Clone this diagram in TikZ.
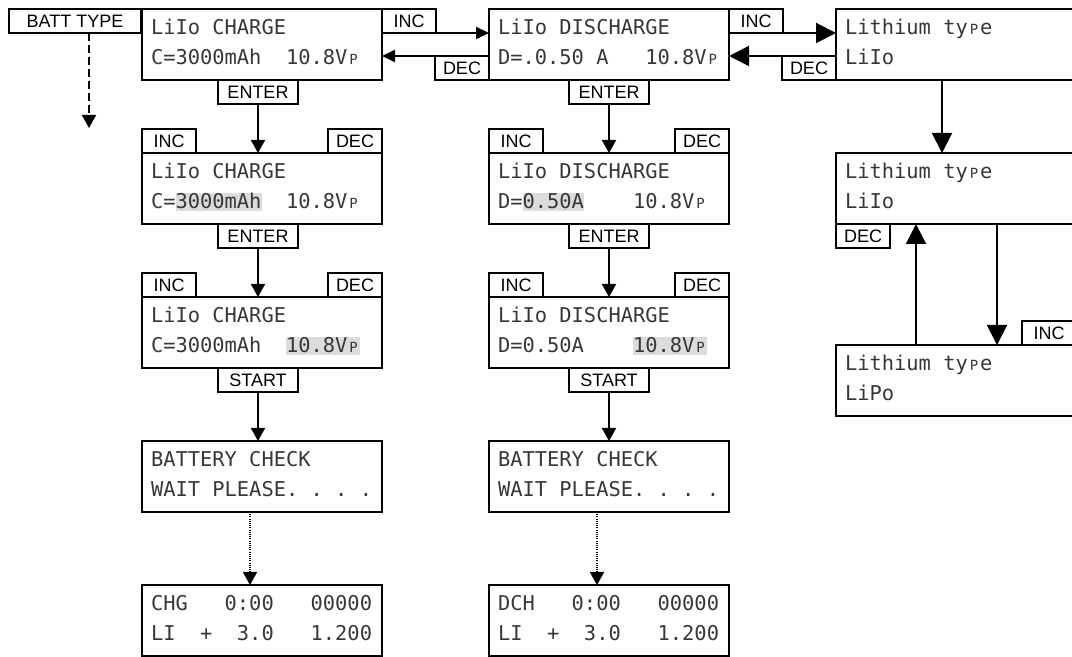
\documentclass[tikz,border=0pt]{standalone}
\usepackage{fontspec}
\setmainfont{Liberation Sans}
\newfontfamily\lcdfont{DejaVu Sans Mono}
\usetikzlibrary{arrows.meta,positioning}
\definecolor{lcdgray}{RGB}{220,220,220}
\definecolor{lcdink}{RGB}{55,55,55}
% small raised P of the display font
\newcommand\lcdp{\makebox[0.602em][c]{\fontsize{7}{7}\selectfont P}}
\newcommand\lcdhl[1]{{\setlength\fboxsep{0pt}\colorbox{lcdgray}{\rule[-1.5pt]{0pt}{9pt}#1}}}
\newcommand\lcdtwo[2]{\spaceskip=0pt\xspaceskip=0pt\rule{0pt}{8pt}#1\\#2\rule[-3pt]{0pt}{3pt}}
\tikzset{
  lcd/.style={draw, line width=1pt, outer sep=0pt, minimum width=120pt, minimum height=35.5pt,
    text width=111pt, inner xsep=4.5pt, inner ysep=0pt, align=left, text=lcdink,
    font=\lcdfont\frenchspacing\fontsize{10.2}{15}\selectfont, anchor=north west},
  btn/.style={draw, line width=1pt, outer sep=0pt, minimum width=27pt, minimum height=12pt,
    inner sep=0pt, font=\fontsize{9}{10}\selectfont},
  btnw/.style={btn, minimum width=40pt},
  arr/.style={-{Triangle[length=6.5pt,width=7pt]}, line width=1pt},
  arrS/.style={-{Triangle[length=6.5pt,width=6pt]}, line width=1pt},
  arrL/.style={-{Triangle[length=10pt,width=10pt]}, line width=1pt}
}
\begin{document}
\begin{tikzpicture}[x=0.5pt,y=0.5pt,yscale=-1,xscale=1]
\clip (0,0) rectangle (1072,657);

% axes of the connectors
\coordinate (axA) at (258,0);
\coordinate (axD) at (609,0);
\coordinate (dotA) at (250,0);
\coordinate (dotD) at (597,0);
\coordinate (axL) at (942,0);
\coordinate (upL) at (916,0);
\coordinate (dnL) at (997,0);

%Flowchart: Process -- battery type
\node[btn, minimum width=66pt, anchor=north west] (batt) at (9,9) {BATT TYPE};
\coordinate (battend) at (89,128);
\draw[arr, dash pattern=on 4pt off 2pt] (batt.south -| battend) -- (battend);

%Flowchart: Process -- top row
\node[lcd] (A1) at (142,9) {\lcdtwo{LiIo~CHARGE}{C=3000mAh~~10.8V\lcdp}};
\node[lcd] (D1) at (489,9) {\lcdtwo{LiIo~DISCHARGE}{D=.0.50~A~~~10.8V\lcdp}};
\node[lcd] (L1) at (836,9) {\lcdtwo{Lithium~ty\lcdp e}{LiIo}};

\node[btn, anchor=north west] (incA1) at (A1.north east) {INC};
\node[btn, anchor=south east] (decD1) at (D1.south west) {DEC};
\node[btn, anchor=north west] (incD1) at (D1.north east) {INC};
\node[btn, anchor=south east] (decL1) at (L1.south west) {DEC};

%Straight Lines
\draw[arrS] (incA1.south east) -- (incA1.south east -| D1.west);
\draw[arrS] (decD1.north west) -- (decD1.north west -| A1.east);
\draw[arrL] (incD1.south east) -- (incD1.south east -| L1.west);
\draw[arrL] (decL1.north west) -- (decL1.north west -| D1.east);

%Flowchart: Process -- charge column
\node[btnw, anchor=north] (entA1) at (A1.south -| axA) {ENTER};
\node[lcd] (A2) at (142,153) {\lcdtwo{LiIo~CHARGE}{C=\lcdhl{3000mAh}~~10.8V\lcdp}};
\node[btn, anchor=south west] (incA2) at (A2.north west) {INC};
\node[btn, anchor=south east] (decA2) at (A2.north east) {DEC};
\node[btnw, anchor=north] (entA2) at (A2.south -| axA) {ENTER};
\node[lcd] (A3) at (142,297) {\lcdtwo{LiIo~CHARGE}{C=3000mAh~~\lcdhl{10.8V\lcdp}}};
\node[btn, anchor=south west] (incA3) at (A3.north west) {INC};
\node[btn, anchor=south east] (decA3) at (A3.north east) {DEC};
\node[btnw, anchor=north] (stA) at (A3.south -| axA) {START};
\node[lcd] (A4) at (142,441) {\lcdtwo{BATTERY~CHECK}{WAIT~PLEASE.~.~.~.}};
\node[lcd] (A5) at (142,585) {\lcdtwo{CHG~~~0:00~~~00000}{LI~~+~~3.0~~~1.200}};

%Straight Lines
\draw[arr] (entA1) -- (entA1 |- A2.north);
\draw[arr] (entA2) -- (entA2 |- A3.north);
\draw[arr] (stA) -- (stA |- A4.north);
\draw[arr, line width=0.8pt, dash pattern=on 0.5pt off 0.6pt] (A4.south -| dotA) -- (dotA |- A5.north);

%Flowchart: Process -- discharge column
\node[btnw, anchor=north] (entD1) at (D1.south -| axD) {ENTER};
\node[lcd] (D2) at (489,153) {\lcdtwo{LiIo~DISCHARGE}{D=\lcdhl{0.50A}~~~~10.8V\lcdp}};
\node[btn, anchor=south west] (incD2) at (D2.north west) {INC};
\node[btn, anchor=south east] (decD2) at (D2.north east) {DEC};
\node[btnw, anchor=north] (entD2) at (D2.south -| axD) {ENTER};
\node[lcd] (D3) at (489,297) {\lcdtwo{LiIo~DISCHARGE}{D=0.50A~~~~\lcdhl{10.8V\lcdp}}};
\node[btn, anchor=south west] (incD3) at (D3.north west) {INC};
\node[btn, anchor=south east] (decD3) at (D3.north east) {DEC};
\node[btnw, anchor=north] (stD) at (D3.south -| axD) {START};
\node[lcd] (D4) at (489,441) {\lcdtwo{BATTERY~CHECK}{WAIT~PLEASE.~.~.~.}};
\node[lcd] (D5) at (489,585) {\lcdtwo{DCH~~~0:00~~~00000}{LI~~+~~3.0~~~1.200}};

%Straight Lines
\draw[arr] (entD1) -- (entD1 |- D2.north);
\draw[arr] (entD2) -- (entD2 |- D3.north);
\draw[arr] (stD) -- (stD |- D4.north);
\draw[arr, line width=0.8pt, dash pattern=on 0.5pt off 0.6pt] (D4.south -| dotD) -- (dotD |- D5.north);

%Flowchart: Process -- lithium type column
\node[lcd] (L2) at (836,153) {\lcdtwo{Lithium~ty\lcdp e}{LiIo}};
\node[btn, anchor=north west] (decL2) at (L2.south west) {DEC};
\node[lcd] (L3) at (836,345) {\lcdtwo{Lithium~ty\lcdp e}{LiPo}};
\node[btn, anchor=south east] (incL3) at (L3.north east) {INC};

%Straight Lines
\draw[arrL] (L1.south -| axL) -- (axL |- L2.north);
\draw[arrL] (L3.north -| upL) -- (upL |- L2.south);
\draw[arrL] (L2.south -| dnL) -- (dnL |- L3.north);
\end{tikzpicture}
\end{document}
